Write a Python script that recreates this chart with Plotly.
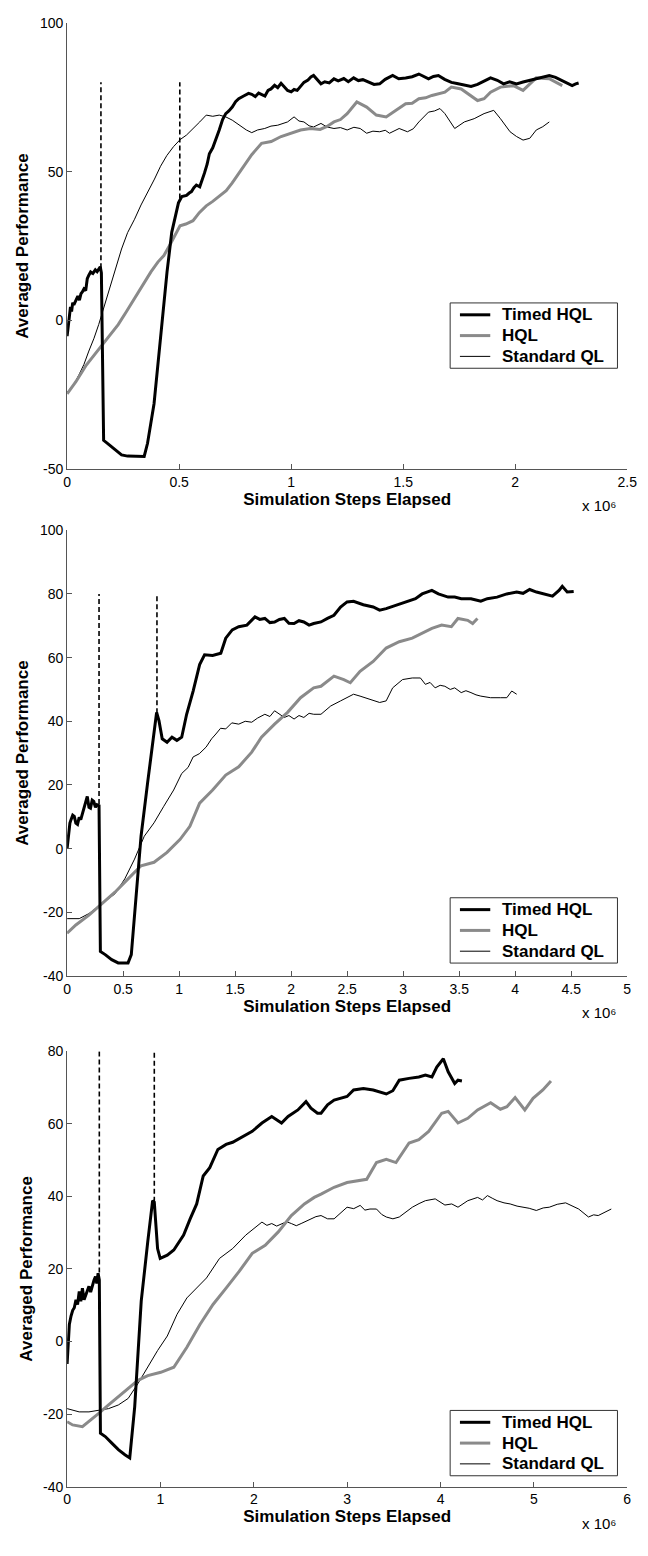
import plotly.graph_objects as go

# ---------------- data (x in units of 10^6 simulation steps) ----------------
series_names = ["Timed HQL", "HQL", "Standard QL"]

# Panel 1
p1_timed_x = [0, 0.005, 0.010, 0.015, 0.020, 0.025, 0.030, 0.039, 0.048, 0.055,
              0.062, 0.068, 0.075, 0.083, 0.090, 0.097, 0.105, 0.115, 0.126, 0.134,
              0.141, 0.148, 0.153, 0.163, 0.180, 0.199, 0.220, 0.243, 0.270, 0.301,
              0.344, 0.359, 0.388, 0.417, 0.446, 0.467, 0.482, 0.497, 0.512, 0.533,
              0.545, 0.555, 0.566, 0.577, 0.592, 0.603, 0.613, 0.625, 0.635, 0.650,
              0.664, 0.679, 0.694, 0.708, 0.722, 0.737, 0.752, 0.766, 0.790, 0.810,
              0.824, 0.840, 0.855, 0.868, 0.883, 0.897, 0.910, 0.926, 0.940, 0.955,
              0.970, 0.984, 1.000, 1.013, 1.027, 1.042, 1.057, 1.075, 1.088, 1.100,
              1.115, 1.133, 1.150, 1.170, 1.191, 1.210, 1.235, 1.255, 1.279, 1.300,
              1.320, 1.351, 1.370, 1.395, 1.420, 1.453, 1.480, 1.511, 1.540, 1.570,
              1.590, 1.613, 1.635, 1.657, 1.685, 1.715, 1.740, 1.770, 1.803, 1.832,
              1.860, 1.890, 1.920, 1.948, 1.975, 2.006, 2.035, 2.065, 2.100, 2.130,
              2.152, 2.180, 2.210, 2.235, 2.254, 2.270, 2.283]
p1_timed_y = [-5.3, -2.0, 0.0, 4.5, 3.0, 6.0, 5.2, 7.0, 8.2, 6.8,
              9.0, 9.6, 10.6, 10.0, 14.0, 15.2, 16.3, 15.8, 17.0, 16.4,
              17.4, 18.0, 16.0, -40.3, -41.3, -42.5, -44.0, -45.2, -45.6, -45.7,
              -45.7, -41.3, -28.0, -5.9, 16.3, 29.6, 35.0, 39.5, 41.6, 42.0,
              42.8, 43.3, 44.6, 45.5, 44.9, 47.0, 49.5, 52.5, 56.0, 58.0,
              60.6, 64.0, 67.5, 69.5, 70.4, 71.7, 73.5, 74.5, 75.5, 76.3,
              76.0, 75.2, 76.4, 76.0, 75.4, 77.3, 77.8, 79.0, 78.2, 79.7,
              78.6, 77.3, 76.8, 77.6, 77.3, 78.5, 80.0, 80.8, 81.8, 82.3,
              81.0, 79.5, 80.2, 79.8, 81.2, 80.5, 81.3, 80.2, 81.5, 80.6,
              80.9, 80.0, 79.3, 79.5, 81.0, 82.3, 81.2, 81.5, 81.9, 82.8,
              82.0, 81.2, 82.0, 82.3, 81.0, 80.0, 79.6, 79.0, 78.6, 79.3,
              80.3, 81.5, 80.7, 79.5, 80.2, 79.5, 80.1, 80.6, 81.2, 81.8,
              82.3, 81.7, 80.6, 79.6, 78.9, 79.5, 79.8]

p1_hql_x = [0, 0.040, 0.083, 0.120, 0.156, 0.190, 0.228, 0.265, 0.301, 0.340, 0.374, 0.405, 0.432, 0.461,
            0.504, 0.530, 0.562, 0.590, 0.621, 0.650, 0.679, 0.710, 0.737, 0.780, 0.824, 0.868, 0.911,
            0.955, 0.998, 1.042, 1.086, 1.129, 1.160, 1.191, 1.220, 1.250, 1.293, 1.337, 1.380, 1.424,
            1.468, 1.511, 1.540, 1.570, 1.600, 1.628, 1.686, 1.715, 1.759, 1.803, 1.832, 1.861, 1.890,
            1.934, 1.992, 2.035, 2.065, 2.094, 2.152, 2.181, 2.210]
p1_hql_y = [-24.7, -20.5, -15.3, -11.8, -8.1, -5.0, -1.4, 3.0, 7.4, 12.2, 16.3, 19.6, 21.8, 25.7,
            31.8, 32.4, 33.5, 36.2, 38.5, 40.0, 41.8, 43.6, 46.2, 50.7, 55.7, 59.5, 60.1,
            61.8, 62.9, 64.0, 64.5, 64.2, 65.2, 66.7, 67.5, 69.5, 73.4, 71.7, 69.0, 68.4,
            70.6, 72.8, 73.0, 74.5, 74.8, 75.6, 76.7, 78.4, 77.8, 75.6, 73.9, 74.5, 76.7,
            78.4, 78.9, 77.3, 79.5, 81.5, 81.2, 80.0, 78.9]

p1_std_x = [0, 0.030, 0.054, 0.075, 0.097, 0.120, 0.141, 0.163, 0.185, 0.215, 0.243, 0.270, 0.301, 0.330,
            0.359, 0.390, 0.417, 0.445, 0.475, 0.505, 0.533, 0.560, 0.592, 0.621, 0.650, 0.679, 0.708,
            0.737, 0.760, 0.780, 0.800, 0.824, 0.850, 0.882, 0.910, 0.940, 0.962, 0.984, 1.013, 1.035,
            1.057, 1.080, 1.100, 1.133, 1.160, 1.191, 1.220, 1.250, 1.280, 1.308, 1.337, 1.365, 1.395,
            1.420, 1.439, 1.460, 1.482, 1.519, 1.545, 1.570, 1.613, 1.640, 1.664, 1.686, 1.710, 1.730,
            1.773, 1.817, 1.861, 1.904, 1.934, 1.977, 2.006, 2.035, 2.065, 2.094, 2.123, 2.152]
p1_std_y = [-24.2, -21.5, -18.1, -14.8, -10.3, -6.0, -1.4, 4.0, 9.6, 17.5, 24.0, 29.5, 34.0, 38.8,
            42.9, 47.5, 51.8, 55.4, 58.4, 60.8, 62.3, 64.2, 66.7, 69.0, 68.6, 69.0, 68.4,
            67.3, 66.0, 65.1, 64.0, 63.1, 64.0, 64.5, 65.3, 65.6, 66.2, 66.7, 68.4, 67.0,
            66.7, 65.4, 65.0, 66.2, 65.0, 64.5, 64.8, 64.0, 64.9, 64.5, 62.9, 63.6, 63.4,
            63.9, 62.9, 63.8, 64.5, 63.4, 64.4, 66.7, 70.0, 70.4, 71.2, 69.5, 67.0, 64.5,
            66.7, 67.8, 69.5, 70.6, 67.8, 63.4, 61.8, 60.6, 61.2, 64.0, 65.1, 66.7]

p1_switch_x = [0.151, 0.503]
p1_switch_from = [17.5, 41.0]

# Panel 2
p2_timed_x = [0, 0.008, 0.015, 0.025, 0.035, 0.050, 0.064, 0.078, 0.093, 0.108, 0.122, 0.137, 0.151, 0.165,
              0.180, 0.195, 0.209, 0.224, 0.238, 0.253, 0.267, 0.285, 0.297,
              0.340, 0.398, 0.456, 0.544, 0.573, 0.602, 0.660, 0.718, 0.762, 0.799, 0.820, 0.849, 0.892,
              0.936, 0.980, 1.023, 1.067, 1.125, 1.183, 1.227, 1.299, 1.372, 1.416, 1.474, 1.532, 1.605,
              1.677, 1.720, 1.765, 1.810, 1.852, 1.895, 1.939, 1.980, 2.026, 2.070, 2.113, 2.160, 2.201,
              2.266, 2.324, 2.382, 2.441, 2.499, 2.557,
              2.644, 2.732, 2.790, 2.848, 2.936, 3.023, 3.110, 3.169, 3.256, 3.314, 3.401, 3.460, 3.518,
              3.605, 3.693, 3.751, 3.838, 3.925, 4.013, 4.070, 4.129, 4.190, 4.246, 4.333, 4.391, 4.420,
              4.464, 4.522]
p2_timed_y = [0.0, 3.0, 3.9, 8.0, 9.1, 10.5, 10.1, 8.0, 7.6, 9.8, 9.1, 11.0, 12.2, 14.8,
              16.4, 13.0, 12.7, 15.2, 14.8, 13.0, 13.8, 13.5, -32.3,
              -33.3, -34.9, -35.9, -35.9, -33.3, -20.9, 3.9, 20.5, 32.9, 42.8, 40.2, 34.5, 33.4,
              35.0, 34.0, 35.0, 42.2, 49.5, 57.8, 60.9, 60.7, 61.4, 66.1, 68.7, 69.7, 70.2,
              72.8, 72.0, 72.3, 71.0, 71.2, 72.0, 72.3, 70.8, 70.7, 71.6, 71.2, 70.2, 70.7,
              71.2, 72.3, 73.3, 75.9, 77.5, 77.7,
              76.6, 75.9, 74.9, 75.4, 76.4, 77.5, 78.5, 80.0, 81.1, 80.0, 79.0, 79.0, 78.5,
              78.5, 77.7, 78.5, 79.0, 80.0, 80.6, 80.2, 81.4, 80.6, 80.0, 79.3, 81.1, 82.4,
              80.6, 80.8]

p2_hql_x = [0, 0.078, 0.195, 0.311, 0.427, 0.544, 0.660, 0.776, 0.892, 1.009, 1.096, 1.183, 1.299, 1.416,
            1.532, 1.648, 1.735, 1.852, 1.968, 2.084, 2.201, 2.266, 2.382, 2.470, 2.528, 2.615, 2.732,
            2.848, 2.965, 3.081, 3.169, 3.256, 3.343, 3.430, 3.489, 3.576, 3.620, 3.663]
p2_hql_y = [-26.6, -24.0, -20.9, -17.3, -13.7, -9.5, -5.4, -4.3, -1.2, 2.9, 7.0, 14.3, 18.4, 23.1,
            25.7, 30.3, 35.0, 39.1, 42.8, 47.4, 50.5, 51.0, 54.2, 53.1, 52.1, 55.7, 58.8,
            63.0, 65.0, 66.1, 67.6, 69.2, 70.2, 69.7, 72.3, 71.7, 70.7, 72.3]

p2_std_x = [0, 0.108, 0.195, 0.311, 0.427, 0.515, 0.602, 0.689, 0.776, 0.863, 0.951, 1.023, 1.080, 1.125,
            1.180, 1.241, 1.290, 1.328, 1.370, 1.416, 1.470, 1.532, 1.590, 1.648, 1.700, 1.765, 1.810,
            1.852, 1.900, 1.939, 1.980, 2.026, 2.070, 2.113, 2.160, 2.201, 2.266, 2.353, 2.441,
            2.557, 2.615, 2.703, 2.790, 2.848, 2.906, 2.994, 3.081, 3.154, 3.198, 3.240, 3.285, 3.330,
            3.372, 3.420, 3.460, 3.518, 3.560, 3.605, 3.650, 3.693, 3.780, 3.867, 3.925, 3.969, 4.013]
p2_std_y = [-22.0, -22.0, -20.4, -17.3, -14.2, -9.5, -3.3, 3.9, 8.1, 13.3, 18.4, 23.6, 25.5, 28.8,
            29.8, 31.9, 34.5, 36.0, 37.8, 37.6, 39.5, 39.1, 40.0, 39.7, 41.0, 42.2, 41.5,
            43.3, 42.0, 41.2, 41.8, 40.7, 41.8, 41.2, 42.5, 42.2, 42.2, 44.8, 46.4,
            48.5, 47.9, 46.9, 45.9, 46.4, 50.5, 53.1, 53.6, 53.6, 51.6, 52.2, 50.5, 51.3,
            51.0, 50.0, 50.5, 49.0, 49.6, 49.0, 48.3, 47.9, 47.4, 47.4, 47.4, 49.5, 48.5]

p2_switch_x = [0.285, 0.802]
p2_switch_from = [14.0, 42.5]

# Panel 3
p3_timed_x = [0, 0.024, 0.042, 0.060, 0.077, 0.095, 0.112, 0.130, 0.147, 0.164, 0.182, 0.199, 0.217, 0.234,
              0.252, 0.269, 0.287, 0.304, 0.318, 0.332, 0.345,
              0.357, 0.409, 0.479, 0.549, 0.619, 0.671, 0.724, 0.794, 0.864, 0.916, 0.934, 0.969, 0.997,
              1.073, 1.143, 1.248, 1.318, 1.388, 1.458, 1.528, 1.615, 1.703, 1.773, 1.878, 1.983, 2.087,
              2.192, 2.297, 2.367, 2.472, 2.559, 2.612, 2.682, 2.720, 2.790, 2.860, 2.930, 2.999, 3.069,
              3.174, 3.279, 3.349, 3.419, 3.489, 3.558, 3.663, 3.768, 3.838, 3.908, 3.960, 4.030, 4.082,
              4.152, 4.187, 4.229]
p3_timed_y = [-6.2, 4.7, 7.0, 8.6, 9.3, 11.5, 10.2, 13.8, 11.1, 14.7, 11.5, 12.9, 14.0, 15.2,
              13.6, 15.6, 16.8, 17.9, 16.0, 18.8, 17.0,
              -25.3, -26.2, -28.0, -29.8, -31.2, -32.1, -18.0, 11.1, 27.5, 38.8, 38.4, 25.6, 22.9,
              23.8, 25.2, 29.3, 33.8, 37.9, 45.6, 47.9, 52.9, 54.3, 54.9, 56.5, 57.9, 60.2,
              62.0, 60.2, 62.0, 63.8, 66.1, 64.3, 62.9, 62.9, 65.2, 66.5, 67.0, 67.5, 69.3,
              69.7, 69.3, 68.8, 68.2, 69.1, 72.0, 72.5, 72.9, 73.4, 72.9, 75.6, 77.9, 74.3,
              71.1, 72.0, 71.8]

p3_hql_x = [0, 0.059, 0.164, 0.234, 0.339, 0.444, 0.549, 0.654, 0.759, 0.864, 1.003, 1.143, 1.283, 1.423,
            1.563, 1.703, 1.843, 1.983, 2.122, 2.262, 2.402, 2.542, 2.647, 2.720, 2.860, 2.999, 3.104,
            3.209, 3.314, 3.419, 3.523, 3.663, 3.768, 3.873, 4.013, 4.082, 4.187, 4.292, 4.397, 4.537,
            4.641, 4.711, 4.799, 4.903, 4.991, 5.096, 5.183]
p3_hql_y = [-22.1, -23.0, -23.5, -22.1, -19.8, -17.5, -15.3, -13.0, -10.7, -9.4, -8.5, -7.1, -1.6, 4.7,
            10.2, 14.7, 19.3, 24.3, 26.5, 30.2, 34.7, 37.9, 39.7, 40.6, 42.5, 43.8, 44.3,
            44.7, 49.3, 50.2, 49.3, 54.7, 55.6, 57.9, 62.9, 63.4, 60.2, 61.5, 63.8, 65.8,
            64.0, 64.7, 67.2, 63.8, 67.0, 69.3, 71.8]

p3_std_x = [0, 0.129, 0.234, 0.339, 0.444, 0.549, 0.654, 0.759, 0.864, 0.969, 1.073, 1.178, 1.283, 1.388,
            1.493, 1.633, 1.773, 1.913, 2.052, 2.087, 2.140, 2.192, 2.245, 2.297, 2.350, 2.402, 2.455,
            2.507, 2.560, 2.612, 2.665, 2.720, 2.790, 2.860,
            2.930, 2.999, 3.070, 3.139, 3.190, 3.244, 3.314, 3.370, 3.419, 3.490, 3.558, 3.630, 3.698,
            3.770, 3.838, 3.943, 4.000, 4.047, 4.120, 4.187, 4.292, 4.397, 4.450, 4.502, 4.560, 4.606,
            4.680, 4.746, 4.820, 4.886, 4.950, 5.026, 5.100, 5.165, 5.250, 5.340, 5.410, 5.480, 5.585,
            5.640, 5.689, 5.760, 5.829]
p3_std_y = [-18.5, -19.4, -19.4, -18.9, -18.5, -17.5, -15.7, -11.6, -7.1, -2.5, 1.5, 7.5, 12.0, 14.7,
            17.5, 22.9, 25.6, 29.3, 32.0, 32.9, 32.0, 32.5, 31.8, 32.5, 33.0, 32.5, 31.9,
            32.5, 33.2, 33.8, 34.4, 34.7, 33.8, 33.8,
            35.4, 37.0, 36.6, 37.5, 36.2, 36.5, 36.5, 35.0, 34.3, 33.8, 34.3, 35.6, 37.0,
            38.0, 38.8, 39.3, 38.4, 37.6, 37.9, 37.0, 38.8, 39.7, 39.0, 40.2, 39.4, 38.8,
            38.2, 37.9, 37.3, 37.0, 36.7, 36.1, 36.8, 37.0, 37.8, 38.2, 37.4, 36.5, 34.3,
            34.9, 34.7, 35.6, 36.5]

p3_switch_x = [0.345, 0.934]
p3_switch_from = [19.0, 38.5]

switch_top = 80

# axis ranges and tick labels
x_ranges = [[0, 2.5], [0, 5], [0, 6]]
x_tickvals = [[0, 0.5, 1, 1.5, 2, 2.5], [0, 0.5, 1, 1.5, 2, 2.5, 3, 3.5, 4, 4.5, 5], [0, 1, 2, 3, 4, 5, 6]]
x_ticktext = [["0", "0.5", "1", "1.5", "2", "2.5"],
              ["0", "0.5", "1", "1.5", "2", "2.5", "3", "3.5", "4", "4.5", "5"],
              ["0", "1", "2", "3", "4", "5", "6"]]
y_ranges = [[-50, 100], [-40, 100], [-40, 80]]
y_tickvals = [[-50, 0, 50, 100], [-40, -20, 0, 20, 40, 60, 80, 100], [-40, -20, 0, 20, 40, 60, 80]]
y_ticktext = [["-50", "0", "50", "100"], ["-40", "-20", "0", "20", "40", "60", "80", "100"],
              ["-40", "-20", "0", "20", "40", "60", "80"]]

x_title = "Simulation Steps Elapsed"
y_title = "Averaged Performance"
x_exponent = "x 10\u2076"

# ---------------- layout geometry (pixels) ----------------
W, H = 648, 1556
X0, X1 = 64.5, 637.0
panel_px = [(15.0, 466.0), (527.7, 978.0), (1054.0, 1494.0)]
legend_top_px = [298, 899, 1417]
LEG_L, LEG_R, LEG_H = 456, 627, 66
LEG_ROWS = [12, 33, 54]
LEG_LINE = (466, 497)
LEG_TEXT_X = 507

def fx(p):
    return p / W

def fy(p):
    return 1 - p / H

FONT = "Liberation Sans, Arial, Helvetica, sans-serif"
AXC = "#555555"
GRAY = "#8a8a8a"
series_styles = [dict(color="black", width=3), dict(color=GRAY, width=3), dict(color="black", width=1)]

panels = [
    (p1_timed_x, p1_timed_y, p1_hql_x, p1_hql_y, p1_std_x, p1_std_y, p1_switch_x, p1_switch_from),
    (p2_timed_x, p2_timed_y, p2_hql_x, p2_hql_y, p2_std_x, p2_std_y, p2_switch_x, p2_switch_from),
    (p3_timed_x, p3_timed_y, p3_hql_x, p3_hql_y, p3_std_x, p3_std_y, p3_switch_x, p3_switch_from),
]

fig = go.Figure()
layout = dict(
    width=W, height=H, margin=dict(l=0, r=0, t=0, b=0),
    paper_bgcolor="white", plot_bgcolor="white",
    font=dict(family=FONT, size=14, color="black"),
    showlegend=False,
    annotations=[], shapes=[],
)

for i, (tx, ty, hx, hy, sx, sy, swx, swf) in enumerate(panels):
    n = "" if i == 0 else str(i + 1)
    xa, ya = "x" + n, "y" + n
    # switch markers (dashed verticals)
    for k in range(len(swx)):
        fig.add_trace(go.Scatter(x=[swx[k], swx[k]], y=[swf[k], switch_top], mode="lines",
                                 line=dict(color="black", width=1.6, dash="5px,3px"),
                                 hoverinfo="skip", xaxis=xa, yaxis=ya))
    for (xx, yy, k) in [(sx, sy, 2), (hx, hy, 1), (tx, ty, 0)]:
        fig.add_trace(go.Scatter(x=xx, y=yy, mode="lines", name=series_names[k],
                                 line=series_styles[k], xaxis=xa, yaxis=ya))

    top, bot = panel_px[i]
    common = dict(showline=True, linecolor=AXC, linewidth=1, ticks="inside", ticklen=5,
                  tickcolor=AXC, showgrid=False, zeroline=False, mirror=False,
                  tickfont=dict(family=FONT, size=14, color="black"))
    layout["xaxis" + n] = dict(common, domain=[fx(X0), fx(X1)], range=x_ranges[i],
                               tickmode="array", tickvals=x_tickvals[i], ticktext=x_ticktext[i],
                               anchor=ya,
                               title=dict(text="<b>" + x_title + "</b>", standoff=2,
                                          font=dict(family=FONT, size=17, color="black")))
    layout["yaxis" + n] = dict(common, domain=[fy(bot), fy(top)], range=y_ranges[i],
                               tickmode="array", tickvals=y_tickvals[i], ticktext=y_ticktext[i],
                               anchor=xa,
                               title=dict(text="<b>" + y_title + "</b>", standoff=6,
                                          font=dict(family=FONT, size=17, color="black")))

    # legend box (drawn manually to match the compact MATLAB legend)
    lt = legend_top_px[i]
    layout["shapes"].append(dict(type="rect", xref="paper", yref="paper",
                                 x0=fx(LEG_L), x1=fx(LEG_R), y0=fy(lt + LEG_H), y1=fy(lt),
                                 line=dict(color="#333333", width=1), fillcolor="white", layer="above"))
    for k in range(3):
        ry = lt + LEG_ROWS[k]
        layout["shapes"].append(dict(type="line", xref="paper", yref="paper",
                                     x0=fx(LEG_LINE[0]), x1=fx(LEG_LINE[1]), y0=fy(ry), y1=fy(ry),
                                     line=series_styles[k], layer="above"))
        layout["annotations"].append(dict(text="<b>" + series_names[k] + "</b>", xref="paper", yref="paper",
                                          x=fx(LEG_TEXT_X), y=fy(ry), xanchor="left", yanchor="middle",
                                          showarrow=False, font=dict(family=FONT, size=17, color="black")))

    layout["annotations"].append(
        dict(text=x_exponent, xref="paper", yref="paper",
             x=fx(629), y=fy(bot + 37), xanchor="right", yanchor="middle",
             showarrow=False, font=dict(family=FONT, size=15, color="black")))

fig.update_layout(**layout)
fig.write_html("out.html")
